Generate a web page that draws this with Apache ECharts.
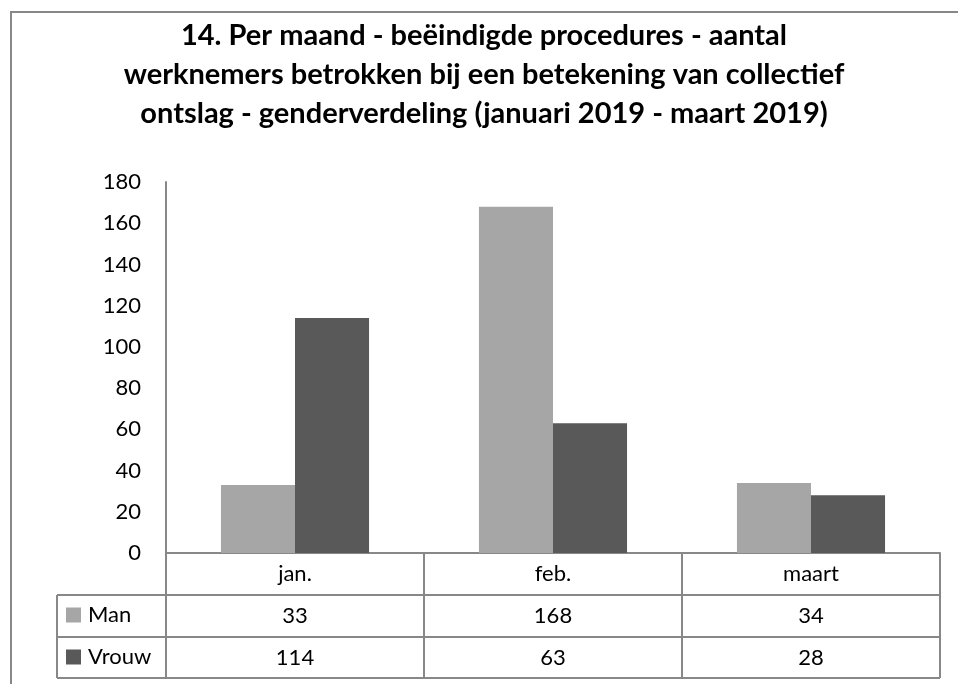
<!DOCTYPE html>
<html>
<head>
<meta charset="utf-8">
<script src="https://cdn.jsdelivr.net/npm/echarts@6/dist/echarts.min.js"></script>
<style>
  html, body { margin: 0; padding: 0; background: #fff; }
  #chart { width: 958px; height: 684px; }
</style>
</head>
<body>
<div id="chart"></div>
<script>
// data
var months = ['jan.', 'feb.', 'maart'];
var man = [33, 168, 34];
var vrouw = [114, 63, 28];
var seriesNames = ['Man', 'Vrouw'];
var yTicks = [0, 180, 20]; // min, max, interval

var titleText = '14. Per maand - beëindigde procedures - aantal\n' +
    'werknemers betrokken bij een betekening van collectief\n' +
    'ontslag - genderverdeling (januari 2019 - maart 2019)';

// layout
var W = 958, H = 684;
var gridLeft = 166, gridRight = 18, gridTop = 182, gridBottom = 131;
var rowH = 42;
var tableLeft = 57;
var lineColor = '#888888';
var font = 'Lato';
var labelSize = 22;

var axisY = H - gridBottom;
var tableRight = W - gridRight;
var rowLines = [axisY + rowH, axisY + rowH * 2, axisY + rowH * 3 - 1];

var chart = echarts.init(document.getElementById('chart'));

var graphics = [
    {
        type: 'rect',
        shape: { x: 11, y: 12, width: 960, height: 700 },
        style: { fill: null, stroke: lineColor, lineWidth: 2 },
        silent: true
    },
    {
        type: 'line',
        shape: { x1: tableLeft, y1: rowLines[0], x2: tableLeft, y2: rowLines[2] },
        style: { stroke: lineColor, lineWidth: 2 }
    }
];
rowLines.forEach(function (y) {
    graphics.push({
        type: 'line',
        shape: { x1: tableLeft, y1: y, x2: tableRight, y2: y },
        style: { stroke: lineColor, lineWidth: 2 }
    });
});

// one legend per table row so each sits in its own cell
var legends = seriesNames.map(function (name, i) {
    return {
        left: 66,
        top: rowLines[i] + rowH / 2 - 12,
        icon: 'rect',
        itemWidth: 15,
        itemHeight: 15,
        itemGap: 0,
        padding: 0,
        selectedMode: false,
        textStyle: { fontFamily: font, fontSize: labelSize, color: '#000', padding: [0, 0, 0, 2] },
        data: [name]
    };
});

chart.setOption({
    animation: false,
    textStyle: { fontFamily: font },
    title: {
        text: titleText,
        left: 484,
        textAlign: 'center',
        top: 16,
        padding: 0,
        textStyle: {
            fontFamily: font,
            fontWeight: 'bold',
            fontSize: 29,
            lineHeight: 39,
            color: '#000'
        }
    },
    legend: legends,
    grid: {
        left: gridLeft,
        right: gridRight,
        top: gridTop,
        bottom: gridBottom,
        containLabel: false
    },
    xAxis: {
        type: 'category',
        data: months,
        axisLine: { lineStyle: { color: lineColor, width: 2 } },
        axisTick: {
            show: true,
            length: rowH * 3 - 1,
            lineStyle: { color: lineColor, width: 2 }
        },
        axisLabel: {
            margin: 0,
            fontFamily: font,
            fontSize: labelSize,
            color: '#000',
            lineHeight: rowH,
            formatter: function (v, i) {
                return v + '\n' + man[i] + '\n' + vrouw[i];
            }
        }
    },
    yAxis: {
        type: 'value',
        min: yTicks[0],
        max: yTicks[1],
        interval: yTicks[2],
        axisLine: { show: true, lineStyle: { color: lineColor, width: 2 } },
        axisTick: { show: false },
        splitLine: { show: false },
        axisLabel: {
            margin: 25,
            fontFamily: font,
            fontSize: labelSize,
            color: '#000'
        }
    },
    series: [
        {
            name: seriesNames[0],
            type: 'bar',
            data: man,
            barGap: '0%',
            barCategoryGap: '42.6%',
            itemStyle: { color: '#a6a6a6' }
        },
        {
            name: seriesNames[1],
            type: 'bar',
            data: vrouw,
            barGap: '0%',
            barCategoryGap: '42.6%',
            itemStyle: { color: '#595959' }
        }
    ],
    graphic: graphics
});

window.addEventListener('resize', function () {
    chart.resize();
});
</script>
</body>
</html>
